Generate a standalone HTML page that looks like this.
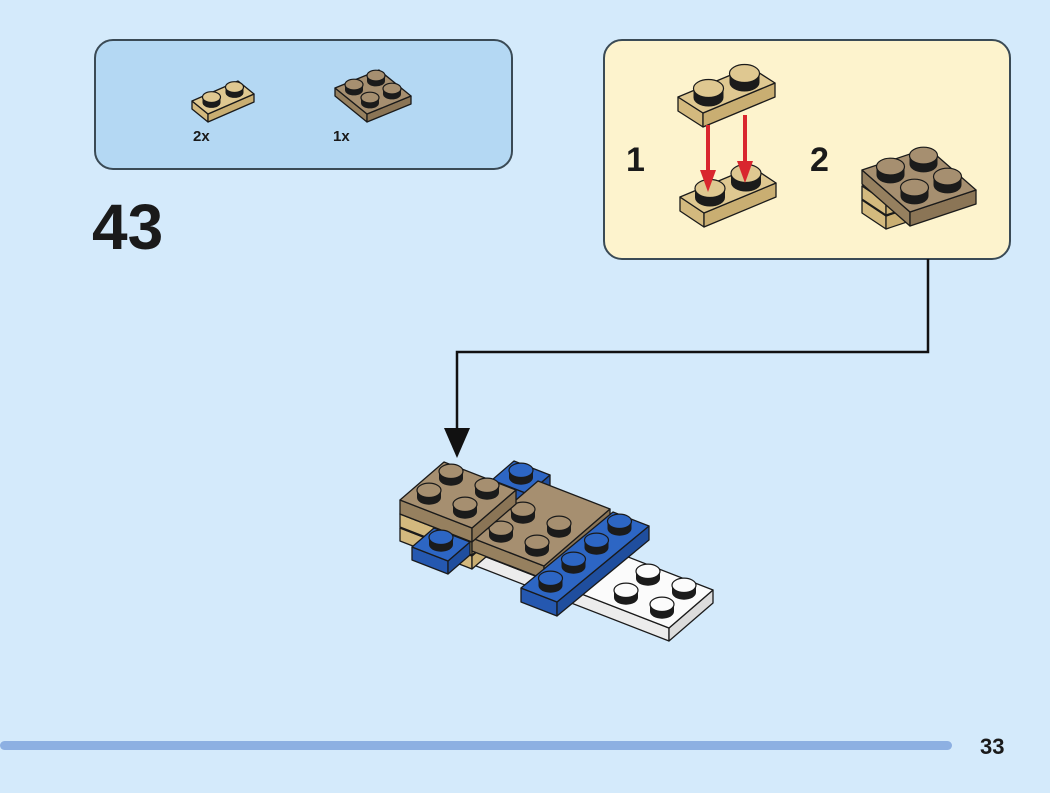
<!DOCTYPE html>
<html><head><meta charset="utf-8"><style>
html,body{margin:0;padding:0;background:#d4eafb;width:1050px;height:793px;overflow:hidden}
svg{display:block}
text{font-family:"Liberation Sans",sans-serif;font-weight:bold;fill:#1a1a1a}
</style></head><body>
<svg id="s" width="1050" height="793" viewBox="0 0 1050 793" xmlns="http://www.w3.org/2000/svg">
<rect x="95" y="40" width="417" height="129" rx="18" fill="#b4d8f3" stroke="#3a4a55" stroke-width="2"/>
<rect x="604" y="40" width="406" height="219" rx="18" fill="#fdf3cd" stroke="#3a4a55" stroke-width="2"/>
<text x="193" y="141" font-size="15">2x</text>
<text x="333" y="141" font-size="15">1x</text>
<text x="92" y="249" font-size="64">43</text>
<text x="626" y="171" font-size="34">1</text>
<text x="810" y="171" font-size="34">2</text>
<polyline points="928,259 928,352 457,352 457,432" fill="none" stroke="#111" stroke-width="2.5"/>
<polygon points="444,428 470,428 457,458" fill="#111"/>
<rect x="0" y="741" width="952" height="9" rx="4.5" fill="#8db0e2"/>
<text x="980" y="754" font-size="22">33</text>
<g id="g"></g>
</svg>
<script>
var g=document.getElementById('g');var NS='http://www.w3.org/2000/svg';
function poly(pts,fill){var p=document.createElementNS(NS,'polygon');p.setAttribute('points',pts.map(function(q){return q[0].toFixed(1)+','+q[1].toFixed(1)}).join(' '));p.setAttribute('fill',fill);p.setAttribute('stroke','#1a1a1a');p.setAttribute('stroke-width','1.3');p.setAttribute('stroke-linejoin','round');g.appendChild(p);}
function el(tag,a){var e=document.createElementNS(NS,tag);for(var k in a)e.setAttribute(k,a[k]);g.appendChild(e);}
function add(a,b,s){return [a[0]+b[0]*s,a[1]+b[1]*s];}
function plate(L,u,v,nu,nv,h,top,front,right,studs,sr){
 var F=add(L,u,nu),R=add(F,v,nv),B=add(L,v,nv);
 poly([L,F,[F[0],F[1]+h],[L[0],L[1]+h]],front);
 poly([F,R,[R[0],R[1]+h],[F[0],F[1]+h]],right);
 poly([L,F,R,B],top);
 if(studs===false)return;
 var list=[];
 for(var j=nv-1;j>=0;j--)for(var i=0;i<nu;i++){if(studs&&studs.indexOf(i+','+j)<0)continue;list.push(add(add(L,u,i+0.5),v,j+0.5));}
 list.forEach(function(c){var rx=sr,ry=sr*0.6,sh=sr*0.6;
  el('rect',{x:c[0]-rx,y:c[1]-sh,width:2*rx,height:sh,fill:'#1b1b1b'});
  el('ellipse',{cx:c[0],cy:c[1],rx:rx,ry:ry,fill:'#1b1b1b'});
  el('ellipse',{cx:c[0],cy:c[1]-sh,rx:rx,ry:ry,fill:top,stroke:'#1a1a1a','stroke-width':1.2});});
}
var TAN=['#dfc891','#d3b97e','#c9ae72'],BR=['#a68f70','#96805f','#8b7556'],BL=['#2d66c4','#2558b0','#1f4e9e'],WH=['#fbfbfb','#ececec','#dcdcdc'];
// parts box
plate([192,101],[16,13],[23,-10],1,2,8,TAN[0],TAN[1],TAN[2],null,9);
plate([335,88],[16,13],[22,-9],2,2,8,BR[0],BR[1],BR[2],null,9);
// callout 1
plate([680,197],[24,16],[36,-15],1,2,14,TAN[0],TAN[1],TAN[2],null,15);
plate([678,97],[25,16],[36,-15],1,2,14,TAN[0],TAN[1],TAN[2],null,15);
// red arrows
[[708,125,192],[745,115,183]].forEach(function(a){el('line',{x1:a[0],y1:a[1],x2:a[0],y2:a[2]-18,stroke:'#d9262e','stroke-width':4});el('polygon',{points:(a[0]-8)+','+(a[2]-22)+' '+(a[0]+8)+','+(a[2]-22)+' '+a[0]+','+a[2],fill:'#d9262e'});});
// callout 2
plate([862,200],[24,16],[33,-11],1,2,13,TAN[0],TAN[1],TAN[2],false,13);
plate([862,186],[24,16],[33,-11],1,2,13,TAN[0],TAN[1],TAN[2],false,13);
plate([862,170],[24,21],[33,-11],2,2,14,BR[0],BR[1],BR[2],null,14);
// main model
var u=[36,14],v=[22,-19];
plate([492,480],u,v,1,1,13,BL[0],BL[1],BL[2],null,12);
plate([453,544],u,v,6,2,13,WH[0],WH[1],WH[2],['4,0','5,0','4,1','5,1'],12);
plate([400,528],u,v,2,1,13,TAN[0],TAN[1],TAN[2],false,12);
plate([400,514],u,v,2,1,13,TAN[0],TAN[1],TAN[2],false,12);
plate([472,538],u,v,2,3,13,BR[0],BR[1],BR[2],['0,0','1,0','0,1','1,1'],12);
plate([400,500],u,v,2,2,14,BR[0],BR[1],BR[2],null,12);
plate([412,547],u,v,1,1,13,BL[0],BL[1],BL[2],null,12);
plate([521,588],u,[23,-19],1,4,14,BL[0],BL[1],BL[2],null,12);
</script>
</body></html>
